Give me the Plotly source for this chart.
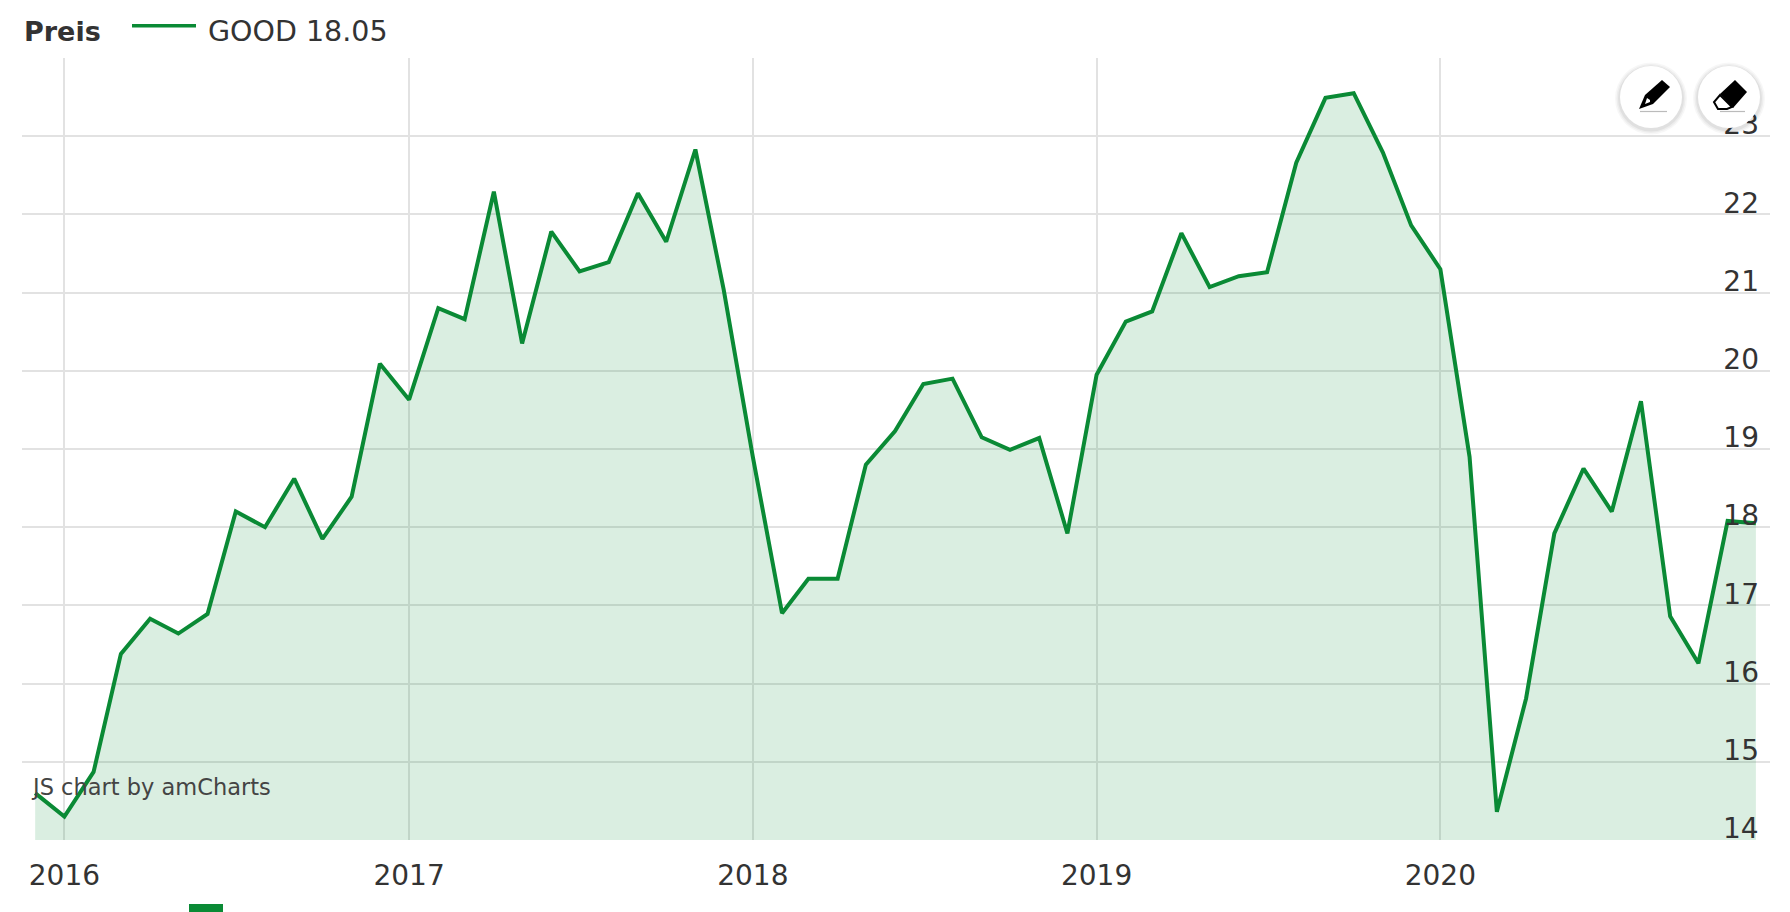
import plotly.graph_objects as go
import pandas as pd

dates = pd.date_range("2015-12-01", "2020-12-01", freq="MS").strftime("%Y-%m-%d").tolist()
prices = [14.6, 14.3, 14.87, 16.38, 16.83, 16.64, 16.89, 18.2, 18.0, 18.62, 17.85, 18.39,
          20.09, 19.63, 20.8, 20.66, 22.29, 20.35, 21.78, 21.27, 21.39, 22.27, 21.65, 22.83,
          21.04, 18.9, 16.9, 17.34, 17.34, 18.8, 19.23, 19.83, 19.9, 19.15, 18.99, 19.14,
          17.92, 19.95, 20.63, 20.76, 21.76, 21.07, 21.21, 21.26, 22.66, 23.49, 23.55, 22.79,
          21.86, 21.3, 18.9, 14.36, 15.81, 17.92, 18.75, 18.2, 19.61, 16.86, 16.26, 18.08, 18.05]
year_ticks = ["2016-01-01", "2017-01-01", "2018-01-01", "2019-01-01", "2020-01-01"]
year_labels = ["2016", "2017", "2018", "2019", "2020"]
price_ticks = [14, 15, 16, 17, 18, 19, 20, 21, 22, 23, 24]
price_labels = ["14", "15", "16", "17", "18", "19", "20", "21", "22", "23", ""]
series_name = "GOOD 18.05"
legend_title = "Preis"

W, H = 1790, 912
L, R, T, B = 22, 1770, 58, 840
GREEN = "#0a8a35"
FONT = "DejaVu Sans"
TEXT = "#333333"
GRID = "#e2e2e2"

def px(x): return (x - L) / (R - L)
def py(y): return (B - y) / (B - T)
def path(pts):
    return "M " + " L ".join(f"{px(x):.5f},{py(y):.5f}" for x, y in pts) + " Z"

fig = go.Figure()
fig.add_trace(go.Scatter(
    x=dates, y=prices, mode="lines", line=dict(width=0), showlegend=False,
    fill="tozeroy", fillcolor="rgba(10,138,53,0.15)", hoverinfo="skip",
))
fig.add_trace(go.Scatter(
    x=dates, y=prices, mode="lines", name=series_name, showlegend=False,
    line=dict(color=GREEN, width=4, shape="linear"),
    hoverinfo="x+y", cliponaxis=False,
))

shapes = []
def circle(cx, cy, r, **kw):
    shapes.append(dict(type="circle", xref="paper", yref="paper",
                       x0=px(cx - r), x1=px(cx + r), y0=py(cy + r), y1=py(cy - r), **kw))

for cx in (1651, 1729):
    for dr, a in ((5, 0.03), (3.5, 0.04), (2, 0.05)):
        circle(cx, 98.5, 31 + dr, fillcolor=f"rgba(0,0,0,{a})", line_width=0)
    circle(cx, 97, 31, fillcolor="white", line_width=0)
    shapes.append(dict(type="line", xref="paper", yref="paper",
                       x0=px(cx - 11 if cx == 1651 else cx - 9), x1=px(cx + 16), y0=py(111.5), y1=py(111.5),
                       line=dict(color="#bbbbbb", width=1.2)))

# pencil
shapes.append(dict(type="path", xref="paper", yref="paper", line_width=0, fillcolor="black",
                   path=path([(1639, 109), (1645, 95), (1662, 80), (1670, 87), (1653, 104)])))
shapes.append(dict(type="path", xref="paper", yref="paper", line_width=0, fillcolor="white",
                   path=path([(1645, 104), (1647, 98), (1650, 100), (1650, 102)])))
# eraser
shapes.append(dict(type="path", xref="paper", yref="paper", line_width=0, fillcolor="black",
                   path=path([(1735, 80), (1747, 92), (1733, 108), (1720, 94)])))
shapes.append(dict(type="path", xref="paper", yref="paper", fillcolor="white",
                   line=dict(color="black", width=2),
                   path=path([(1720, 95), (1732, 107), (1727, 109), (1718, 109), (1714, 102)])))
# cropped marker at the bottom edge
shapes.append(dict(type="rect", xref="paper", yref="paper", line_width=0, fillcolor=GREEN,
                   x0=px(189), x1=px(223), y0=py(912), y1=py(904)))
# legend key
shapes.append(dict(type="line", xref="paper", yref="paper", x0=px(132), x1=px(196),
                   y0=py(25.7), y1=py(25.7), line=dict(color=GREEN, width=3.5)))

annotations = [
    dict(text="JS chart by amCharts", xref="paper", yref="paper",
         x=px(29), y=py(787), xanchor="left", yanchor="middle", showarrow=False,
         font=dict(size=22.5, color="#444444")),
    dict(text=f"<b>{legend_title}</b>", xref="paper", yref="paper", x=px(22), y=py(31),
         xanchor="left", yanchor="middle", showarrow=False, font=dict(size=27, color=TEXT)),
    dict(text=series_name, xref="paper", yref="paper", x=px(206), y=py(31),
         xanchor="left", yanchor="middle", showarrow=False, font=dict(size=28.5, color=TEXT)),
    # the lowest label sits on the axis end, where Plotly drops inside tick labels
    dict(text=price_labels[0], xref="paper", yref="y", x=px(1760), y=price_ticks[0],
         xanchor="right", yanchor="middle", yshift=12, showarrow=False,
         borderpad=0, font=dict(size=28, color=TEXT)),
]

fig.update_layout(
    width=W, height=H, autosize=False,
    margin=dict(l=L, r=W - R, t=T, b=H - B, pad=0, autoexpand=False),
    paper_bgcolor="white", plot_bgcolor="white",
    font=dict(family=FONT, color=TEXT, size=28),
    showlegend=False,
    xaxis=dict(type="date", range=["2015-11-17", "2020-12-16"],
               tickmode="array", tickvals=year_ticks, ticktext=year_labels,
               showgrid=True, gridcolor=GRID, gridwidth=1.5, zeroline=False, showline=False,
               ticks="", tickfont=dict(size=28, color=TEXT), ticklabelstandoff=16),
    yaxis=dict(range=[14, 24], side="right", tickmode="array",
               tickvals=price_ticks, ticktext=[""] + price_labels[1:],
               ticklabelposition="inside top", showgrid=True, gridcolor=GRID, gridwidth=1.5,
               zeroline=False, showline=False, ticks="",
               tickfont=dict(size=28, color=TEXT), ticklabelshift=8, ticklabelstandoff=8),
    shapes=shapes,
    annotations=annotations,
)

fig.write_html("out.html", config=dict(displayModeBar=False),
               post_script="document.body.style.margin='0';")
